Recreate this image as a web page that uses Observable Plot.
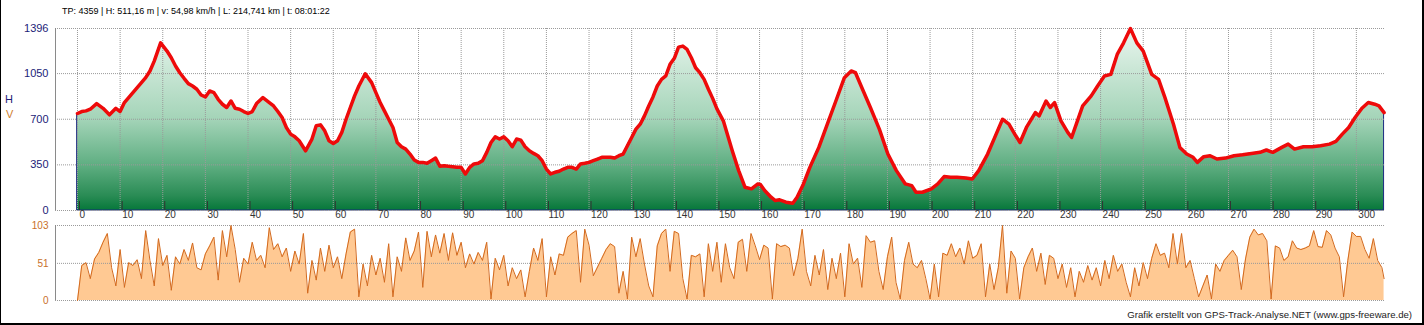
<!DOCTYPE html>
<html><head><meta charset="utf-8">
<script src="https://cdn.jsdelivr.net/npm/d3@7"></script>
<script src="https://cdn.jsdelivr.net/npm/@observablehq/plot@0.6"></script>
<style>
html,body{margin:0;padding:0;background:#fff;}
#wrap{position:relative;width:1424px;height:325px;overflow:hidden;font-family:"Liberation Sans",Arial,sans-serif;background:#fff;}
#wrap svg{position:absolute;left:0;}
#border{position:absolute;left:0;top:0;width:1424px;height:325px;box-sizing:border-box;border-left:1px solid #000;border-right:2px solid #000;border-bottom:2px solid #000;pointer-events:none;}
.txt{position:absolute;white-space:nowrap;font-size:9px;line-height:12px;color:#000;}
</style>
</head><body>
<div id="wrap">
  <div class="txt" id="title" style="left:62px;top:5px;">TP: 4359 | H: 511,16 m | v: 54,98 km/h | L: 214,741 km | t: 08:01:22</div>
  <div class="txt" style="left:5px;top:93px;font-size:11px;color:#1c1c78;">H</div>
  <div class="txt" style="left:6px;top:108px;font-size:11px;color:#d08030;">V</div>
  <div class="txt" id="credit" style="right:12px;top:309px;font-size:9.6px;color:#222;">Grafik erstellt von GPS-Track-Analyse.NET (www.gps-freeware.de)</div>
  <div id="border"></div>
</div>
<script>
// ---- Data ----
const elevKm = [0,1,2,3,4.5,6,7.5,9,10,11,13,15,16,17,18,19.5,21,22,23,24,25,26,27,28,29,30,31,32,33,34,35,36,37,38,39,40,41,42,43.5,45,46,47,48,49,50,51,52,53.5,55,56,57,58,59,60,61,62,63,64,65,66,67.5,69,70,71,72,73,74,75,76,77,78,79,80,81,82,83,84,85,86,87,88,89,90,91,92,93,94,95,96,97,98,99,100,101,102,103,104,105,106,107,108,109,110,111,112,113,114,115,116,117,118,119,120,121,122,123,124,125,126,127,128,129,130,131,132,133,134,135,136,137,138,139,140,141,142,143,144,145,146,147,148,149,150,151.5,153.6,155.1,156.6,158.1,159.6,160.2,161.2,162.7,163.7,164.7,166.2,167.8,168.8,170.3,171.8,173.9,175.9,177.9,179.9,181.5,182.5,184,186,188.1,190.1,192.1,194.2,195.7,196.7,198.2,200.3,201.8,203.3,204.8,206.3,208.4,209.9,211.4,213.5,215.5,217,218.5,220.1,221.1,222.6,224.7,225.6,227.2,228.2,229.2,230.7,232.3,233.2,234.3,235.8,237.8,239.3,240.9,242.4,243.9,245.4,247,248.5,250,252,253.6,255.1,257.1,258.6,260.2,261.7,262.7,264.2,265.7,267.3,269.3,271.3,273.3,275.4,277.4,278.9,280.4,282.5,284,285.5,287.6,289.6,291.6,293.7,295.2,296.7,298.2,299.7,301.3,302.8,304.3,305.3,306.5];
const elevM = [744,759,764,777,820,784,734,784,759,828,904,981,1019,1070,1146,1286,1223,1172,1108,1057,1014,973,955,930,886,871,917,904,853,815,790,840,784,777,759,744,759,820,866,828,802,759,713,637,586,565,535,458,548,650,657,611,535,514,535,599,700,790,879,955,1049,981,904,828,764,700,637,522,489,471,433,387,369,369,362,382,402,339,344,339,336,331,331,280,331,357,362,382,446,522,565,548,565,535,489,548,540,489,458,438,420,382,318,280,293,301,318,331,331,318,357,362,369,382,395,408,408,408,402,420,433,497,560,624,662,726,802,871,955,1006,1032,1121,1167,1253,1261,1235,1172,1095,1057,1006,930,860,780,688,458,306,178,166,204,199,153,102,76,82,64,56,102,204,331,484,662,840,1019,1070,1057,942,790,624,433,306,204,191,140,140,166,204,260,255,255,250,242,306,433,586,700,662,573,522,637,751,726,840,790,828,688,599,560,662,802,879,955,1032,1044,1197,1286,1396,1286,1223,1044,1006,866,662,484,433,408,369,413,420,395,402,420,428,438,446,464,446,484,509,471,489,489,497,509,530,586,637,713,784,828,815,802,751];

const speedKmh = [0,48,52,30,57,66,80,92,45,20,
70,18,52,48,56,30,96,55,20,85,
48,62,14,60,50,70,55,79,45,42,
64,75,87,28,96,60,103,70,25,58,
50,80,55,62,45,100,70,78,60,72,
40,68,50,92,10,55,28,72,40,76,
45,60,30,64,94,98,5,50,20,62,
35,58,25,78,5,60,40,86,55,68,
94,18,95,60,90,65,92,55,93,62,
80,45,64,50,66,55,80,2,58,42,
62,20,45,30,42,5,40,72,55,85,
5,60,35,64,62,87,92,96,25,98,
76,34,46,58,70,78,74,10,40,2,
87,60,85,50,20,5,75,92,98,40,
95,92,30,2,62,60,64,5,78,40,
80,25,78,45,30,80,84,40,92,75,
56,76,72,2,78,74,76,72,34,58,
98,40,20,62,35,70,15,58,30,65,
5,78,50,58,18,89,80,82,40,15,
60,87,25,2,55,80,50,45,55,30,
2,50,5,65,62,78,60,72,50,82,
58,62,78,5,50,15,45,103,10,68,
58,2,45,60,72,40,65,22,62,58,
30,50,18,45,5,40,25,48,28,45,
20,55,30,62,40,50,25,5,45,20,
52,30,58,78,62,65,45,92,50,92,
45,55,30,5,20,35,2,50,40,55,
62,69,60,15,57,87,98,90,92,82,
2,75,72,55,60,82,72,70,72,75,
96,74,73,96,90,72,60,5,55,94,
88,88,70,58,85,55,45,30];
const speedKm = speedKmh.map((_, i) => i < 307 ? i : 306.5);

const xDomain = [-5.16, 306.6];
const xTicks = d3.range(0, 301, 10);
const elevTicks = [0, 350, 700, 1050, 1396];
const speedTicks = [0, 51, 103];

const elev = elevKm.map((k, i) => ({km: k, m: elevM[i]}));
const speed = speedKm.map((k, i) => ({km: k, v: speedKmh[i]}));

const FONT = '"Liberation Sans", Arial, sans-serif';
const plain = d => String(d);

// ---- Top chart (elevation) ----
const topChart = Plot.plot({
  width: 1424, height: 222,
  marginLeft: 55, marginRight: 40, marginTop: 28, marginBottom: 12,
  x: {domain: xDomain, axis: null},
  y: {domain: [0, 1396], axis: null},
  style: {fontFamily: FONT, background: "transparent", overflow: "visible"},
  marks: [
    Plot.areaY(elev, {x: "km", y: "m", fill: "#0a7a3a", stroke: "#1a2a80", strokeWidth: 1}),
    Plot.ruleY(elevTicks, {stroke: "#9a9a9a", strokeDasharray: "1,1"}),
    Plot.ruleX(xTicks, {stroke: "#9a9a9a", strokeDasharray: "1,1"}),
    Plot.ruleX([xDomain[0]], {stroke: "#8a8a8a"}),
    Plot.lineY(elev, {x: "km", y: "m", stroke: "#ee0a0a", strokeWidth: 3.5, strokeLinejoin: "round", strokeLinecap: "round"}),
    Plot.axisY(elevTicks, {anchor: "left", label: null, tickFormat: plain, tickSize: 0, tickPadding: 7, fill: "#1c1c78", fontSize: 11}),
    Plot.axisX(xTicks, {anchor: "bottom", label: null, tickFormat: plain, tickSize: 9, tickPadding: 0, textAnchor: "start", dx: 2, dy: -9, stroke: "#333", fill: "#333", fontSize: 10})
  ]
});
topChart.style.top = "0px";
// gradient fill for area
{
  const ns = "http://www.w3.org/2000/svg";
  const defs = document.createElementNS(ns, "defs");
  const lg = document.createElementNS(ns, "linearGradient");
  lg.setAttribute("id", "elevGrad");
  lg.setAttribute("gradientUnits", "userSpaceOnUse");
  lg.setAttribute("x1", "0"); lg.setAttribute("x2", "0");
  lg.setAttribute("y1", "28"); lg.setAttribute("y2", "210");
  [["0", "#eaf6ef"], ["0.5", "#a4d4b8"], ["0.76", "#5dad80"], ["0.92", "#2a8c55"], ["1", "#06783a"]].forEach(([o, c]) => {
    const s = document.createElementNS(ns, "stop");
    s.setAttribute("offset", o); s.setAttribute("stop-color", c);
    lg.appendChild(s);
  });
  defs.appendChild(lg);
  topChart.insertBefore(defs, topChart.firstChild);
  const areaG = topChart.querySelector('g[aria-label="area"]');
  if (areaG) {
    areaG.setAttribute("fill", "url(#elevGrad)");
    areaG.querySelectorAll("path").forEach(p => p.setAttribute("fill", "url(#elevGrad)"));
  }
}

// ---- Bottom chart (speed) ----
const botChart = Plot.plot({
  width: 1424, height: 90,
  marginLeft: 55, marginRight: 40, marginTop: 10, marginBottom: 5,
  x: {domain: xDomain, axis: null},
  y: {domain: [0, 103], axis: null},
  style: {fontFamily: FONT, background: "transparent", overflow: "visible"},
  marks: [
    Plot.areaY(speed, {x: "km", y: "v", fill: "#ffc993"}),
    Plot.ruleY(speedTicks, {stroke: "#9a9a9a", strokeDasharray: "1,1"}),
    Plot.ruleX([xDomain[0]], {stroke: "#8a8a8a"}),
    Plot.lineY(speed, {x: "km", y: "v", stroke: "#d2691e", strokeWidth: 1}),
    Plot.axisY(speedTicks, {anchor: "left", label: null, tickFormat: plain, tickSize: 0, tickPadding: 7, fill: "#c8702a", fontSize: 10})
  ]
});
botChart.style.top = "215px";

const wrap = document.getElementById("wrap");
wrap.insertBefore(botChart, wrap.firstChild);
wrap.insertBefore(topChart, wrap.firstChild);
</script>
</body></html>
